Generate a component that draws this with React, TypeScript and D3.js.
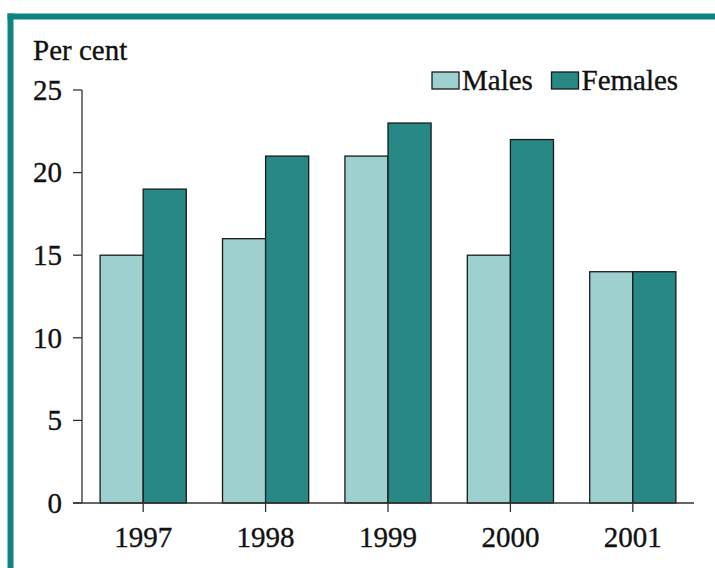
import React from "react";
import * as d3 from "d3";

const years = ["1997", "1998", "1999", "2000", "2001"];
const males = [15, 16, 21, 15, 14];
const females = [19, 21, 23, 22, 14];
const yTicks = [0, 5, 10, 15, 20, 25];
const seriesNames = ["Males", "Females"];

const W = 715;
const H = 568;
const FONT = "Liberation Serif, DejaVu Serif, serif";
const FS = 29;
const MALE = "#9dd0cf";
const FEMALE = "#288886";
const FRAME = "#0e8581";

export default function App() {
  const x = d3.scaleBand<string>().domain(years).range([82, 694]).padding(0);
  const y = d3.scaleLinear().domain([0, 25]).range([503, 90]);
  const barW = x.bandwidth() * 0.352;
  const ts = {
    fontFamily: FONT,
    fontSize: FS,
    stroke: "#111",
    strokeWidth: 0.35,
  } as React.CSSProperties;

  return (
    <svg
      width={W}
      height={H}
      style={{ position: "absolute", left: 0, top: 0, background: "#fff", fontFamily: FONT }}
    >
      {/* frame */}
      <rect x={7.5} y={13.5} width={W} height={6} fill={FRAME} />
      <rect x={7.5} y={13.5} width={6} height={H} fill={FRAME} />

      <text x={33} y={60} style={ts} fill="#111">Per cent</text>

      {/* bars */}
      {years.map((yr, i) => {
        const c = (x(yr) ?? 0) + x.bandwidth() / 2;
        return (
          <g key={yr}>
            <rect
              x={c - barW}
              y={y(males[i])}
              width={barW}
              height={y(0) - y(males[i])}
              fill={MALE}
              stroke="#1a1a1a"
              strokeWidth={1.3}
            />
            <rect
              x={c}
              y={y(females[i])}
              width={barW}
              height={y(0) - y(females[i])}
              fill={FEMALE}
              stroke="#1a1a1a"
              strokeWidth={1.3}
            />
          </g>
        );
      })}

      {/* y axis */}
      <line x1={82} x2={82} y1={y(25)} y2={y(0)} stroke="#333" strokeWidth={1.3} />
      {yTicks.map((t) => (
        <g key={t}>
          <line x1={73} x2={82} y1={y(t)} y2={y(t)} stroke="#333" strokeWidth={1.3} />
          <text x={62} y={y(t) + 9.8} textAnchor="end" style={ts} fill="#111">
            {t}
          </text>
        </g>
      ))}

      {/* x axis */}
      <line x1={73} x2={694} y1={y(0)} y2={y(0)} stroke="#333" strokeWidth={1.3} />
      {years.map((yr) => {
        const c = (x(yr) ?? 0) + x.bandwidth() / 2;
        return (
          <g key={yr}>
            <line x1={c} x2={c} y1={y(0)} y2={y(0) + 9} stroke="#333" strokeWidth={1.3} />
            <text x={c} y={547} textAnchor="middle" style={ts} fill="#111">
              {yr}
            </text>
          </g>
        );
      })}

      {/* legend */}
      {seriesNames.map((n, i) => {
        const sx = i === 0 ? 432 : 551.5;
        return (
          <g key={n}>
            <rect
              x={sx}
              y={72}
              width={27}
              height={17}
              fill={i === 0 ? MALE : FEMALE}
              stroke="#1a1a1a"
              strokeWidth={1.3}
            />
            <text x={sx + 30} y={90} style={ts} fill="#111">
              {n}
            </text>
          </g>
        );
      })}
    </svg>
  );
}
